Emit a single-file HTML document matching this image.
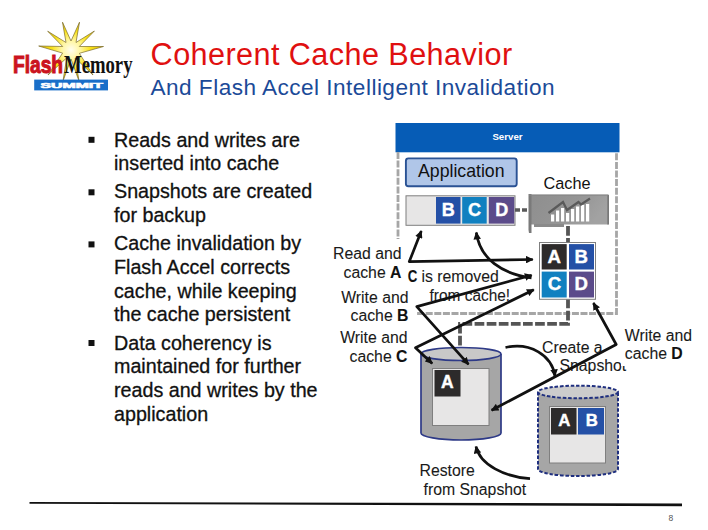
<!DOCTYPE html>
<html><head><meta charset="utf-8">
<style>
html,body{margin:0;padding:0;background:#fff;}
body{width:708px;height:530px;position:relative;overflow:hidden;font-family:"Liberation Sans",sans-serif;}
svg{position:absolute;left:0;top:0;}
text{font-family:"Liberation Sans",sans-serif;}
</style></head><body>
<svg width="708" height="530" viewBox="0 0 708 530">
  <defs>
    <marker id="ah" viewBox="0 0 10 10" refX="9" refY="5" markerWidth="3" markerHeight="2.8" orient="auto-start-reverse" markerUnits="strokeWidth">
      <path d="M0,0 L10,5 L0,10 z" fill="#111"/>
    </marker>
    <linearGradient id="card" x1="0" y1="0" x2="1" y2="0.3">
      <stop offset="0" stop-color="#8e8e8e"/><stop offset="0.6" stop-color="#959595"/><stop offset="1" stop-color="#a2a2a2"/>
    </linearGradient>
    <radialGradient id="sg" cx="71" cy="50" r="32" gradientUnits="userSpaceOnUse">
      <stop offset="0" stop-color="#FFFDF0"/><stop offset="0.3" stop-color="#FFF6A0"/><stop offset="0.6" stop-color="#F9E21A"/><stop offset="1" stop-color="#E2BE00"/>
    </radialGradient>
  </defs>

  <!-- logo -->
  <polygon points="62.5,22.2 71.0,41.0 79.5,22.2 76.0,42.5 94.4,31.0 79.3,46.5 103.5,46.5 79.4,53.3 93.0,75.0 75.2,58.0 79.0,81.0 71.0,59.0 63.0,81.0 66.7,57.9 48.0,75.0 62.6,53.1 38.7,46.0 62.7,46.5 47.7,31.2 66.0,42.5" fill="url(#sg)" stroke="#7A6A2A" stroke-width="0.7"/>
  <text x="13" y="73" font-weight="bold" font-size="23.6" textLength="50" lengthAdjust="spacingAndGlyphs" fill="#CE1420" stroke="#C8121E" stroke-width="1">Flash</text>
  <text x="64" y="72.9" style="font-family:'Liberation Serif',serif" font-weight="bold" font-size="26" textLength="68.5" lengthAdjust="spacingAndGlyphs" fill="#111">Memory</text>
  <rect x="34.2" y="79.6" width="73.8" height="10.8" fill="#1A6FC9"/>
  <text x="40.4" y="87.8" font-weight="bold" font-size="6.6" textLength="62.6" lengthAdjust="spacingAndGlyphs" fill="#fff" stroke="#fff" stroke-width="0.55">SUMMIT</text>

  <!-- title -->
  <text x="150.6" y="64.6" font-size="30.6" textLength="361.5" lengthAdjust="spacing" fill="#E01010">Coherent Cache Behavior</text>
  <text x="150.5" y="94.8" font-size="22.6" textLength="404" lengthAdjust="spacing" fill="#1B4A98">And Flash Accel Intelligent Invalidation</text>

  <!-- bullets -->
  <g fill="#111">
    <rect x="88.5" y="136.8" width="6" height="6"/>
    <rect x="88.5" y="189.3" width="6" height="6"/>
    <rect x="88.5" y="241.4" width="6" height="6"/>
    <rect x="88.5" y="340" width="6" height="6"/>
  </g>
  <g font-size="19.7" fill="#111" stroke="#111" stroke-width="0.3">
    <text x="114" y="146.6">Reads and writes are</text>
    <text x="114" y="170.4">inserted into cache</text>
    <text x="114" y="198">Snapshots are created</text>
    <text x="114" y="221.8">for backup</text>
    <text x="114" y="250.4">Cache invalidation by</text>
    <text x="114" y="274">Flash Accel corrects</text>
    <text x="114" y="297.6">cache, while keeping</text>
    <text x="114" y="321.3">the cache persistent</text>
    <text x="114" y="349.6">Data coherency is</text>
    <text x="114" y="373.3">maintained for further</text>
    <text x="114" y="396.9">reads and writes by the</text>
    <text x="114" y="420.5">application</text>
  </g>

  <!-- bottom rule -->
  <polygon points="29.5,502 682,503.5 682,506.3 29.5,503.7" fill="#111"/>
  <text x="668.5" y="520.5" font-size="8.5" fill="#555">8</text>

  <!-- server header -->
  <rect x="395.5" y="123" width="224" height="29.3" fill="#065CB6"/>
  <text x="507.5" y="140.2" font-size="9.7" font-weight="bold" fill="#fff" text-anchor="middle">Server</text>
  <!-- light gray dashed server box -->
  <path d="M398,152 V313.5 H616.5 V152" fill="none" stroke="#A6A6A6" stroke-width="2.8" stroke-dasharray="7,1.6"/>
  <rect x="330" y="239" width="86" height="130" fill="#fff"/>

  <!-- application -->
  <rect x="405.9" y="158.4" width="110.8" height="27.8" rx="2.5" fill="#B0C6E8" stroke="#2A5294" stroke-width="1.9"/>
  <text x="418" y="176.8" font-size="17.7" fill="#111">Application</text>
  <text x="543.5" y="188.8" font-size="16.3" fill="#111">Cache</text>

  <!-- memory strip -->
  <rect x="406" y="195.8" width="109" height="29.5" fill="#E7E6E6" stroke="#7F7F7F" stroke-width="1"/>
  <rect x="436" y="197" width="24.5" height="26.6" fill="#2450A6"/>
  <rect x="462.2" y="197" width="24.5" height="26.6" fill="#1080C0"/>
  <rect x="488.8" y="197" width="25.4" height="26.6" fill="#5B4B8A"/>
  <g font-size="18" font-weight="bold" fill="#fff" stroke="#fff" stroke-width="0.4" text-anchor="middle">
    <text x="448.3" y="216.3">B</text>
    <text x="474.6" y="216.3">C</text>
    <text x="501.7" y="216.3">D</text>
  </g>

  <!-- dark dashed connectors -->
  <line x1="515" y1="210" x2="530" y2="210" stroke="#595959" stroke-width="3.5" stroke-dasharray="5,2"/>
  <path d="M568,226 V323.8 H460 V347" fill="none" stroke="#555555" stroke-width="3.8" stroke-dasharray="9.7,2.4"/>

  <!-- cache card -->
  <path d="M529,195 L608.5,195 L608.5,224.5 L529,224.5 Z" fill="url(#card)"/>
  <path d="M528.5,194 L531.5,194 L531.5,233 L529,233 L528.5,230 Z" fill="#7a7a7a"/>
  <rect x="534" y="224" width="30" height="3" fill="#8a8a8a"/>
  <rect x="607.3" y="195" width="1.7" height="29.5" fill="#787878"/>
  <rect x="529" y="194.4" width="79.5" height="1.2" fill="#858585"/>
  <g fill="#fff">
    <rect x="551" y="214.5" width="3.2" height="7"/><rect x="556" y="210.5" width="3.2" height="11"/><rect x="561" y="208" width="3.2" height="13.5"/>
    <rect x="566" y="213" width="3.2" height="8.5"/><rect x="571" y="209" width="3.2" height="12.5"/><rect x="576" y="206.5" width="3.2" height="15"/>
    <rect x="581" y="205" width="3.2" height="16.5"/><rect x="586" y="204" width="3.2" height="17.5"/>
  </g>
  <path d="M548.5,213 L563,202 L567,210 L578.5,202 L581,204.5 L590,198.5" fill="none" stroke="#5a5a5a" stroke-width="2.2"/>

  <!-- ABCD grid -->
  <rect x="539.5" y="242.5" width="56" height="56.8" fill="#fff" stroke="#7F7F7F" stroke-width="1"/>
  <rect x="541.7" y="244.1" width="25" height="25.4" fill="#2D2B2B"/>
  <rect x="569" y="244.1" width="25" height="25.4" fill="#2450A6"/>
  <rect x="541.7" y="271.6" width="25" height="25.9" fill="#1080C0"/>
  <rect x="569" y="271.6" width="25" height="25.9" fill="#5B4B8A"/>
  <g font-size="18.6" font-weight="bold" fill="#fff" stroke="#fff" stroke-width="0.4" text-anchor="middle">
    <text x="554.1" y="262.8">A</text>
    <text x="581.2" y="262.8">B</text>
    <text x="554.4" y="289.6">C</text>
    <text x="581.3" y="289.6">D</text>
  </g>

  <!-- cylinder 1 -->
  <path d="M421,354 V433 A40,7 0 0 0 501,433 V354" fill="#A6A6A6" stroke="#2E3A87" stroke-width="1.7"/>
  <ellipse cx="461" cy="354" rx="40" ry="6.5" fill="#C8C8C8" stroke="#2E3A87" stroke-width="1.7"/>
  <rect x="432.5" y="368.5" width="56.5" height="57" fill="#E7E6E6" stroke="#7F7F7F" stroke-width="1"/>
  <rect x="434.5" y="370" width="26" height="26.5" fill="#2D2B2B"/>
  <text x="447.4" y="388" font-size="17.5" font-weight="bold" fill="#fff" stroke="#fff" stroke-width="0.4" text-anchor="middle">A</text>

  <!-- cylinder 2 -->
  <path d="M538,392 V469 A40,7 0 0 0 618,469 V392" fill="#A6A6A6" stroke="#1F2F7F" stroke-width="2" stroke-dasharray="3.5,1.8"/>
  <ellipse cx="578" cy="392" rx="40" ry="6.3" fill="#CCCCCC" stroke="#1F2F7F" stroke-width="2" stroke-dasharray="3.5,1.8"/>
  <rect x="549.5" y="406.5" width="56" height="56.5" fill="#E7E6E6" stroke="#7F7F7F" stroke-width="1"/>
  <rect x="551" y="408" width="25.5" height="26.5" fill="#2D2B2B"/>
  <rect x="578" y="408" width="26" height="26.5" fill="#2450A6"/>
  <g font-size="16.8" font-weight="bold" fill="#fff" stroke="#fff" stroke-width="0.4" text-anchor="middle">
    <text x="564.4" y="426.2">A</text>
    <text x="591.8" y="426.2">B</text>
  </g>

  <!-- labels -->
  <g font-size="15.8" fill="#1a1a1a" stroke="#1a1a1a" stroke-width="0.08">
    <text x="401.5" y="259" text-anchor="end">Read and</text>
    <text x="401.5" y="277.9" text-anchor="end">cache <tspan font-weight="bold" fill="#111">A</tspan></text>
    <text x="408.5" y="302.9" text-anchor="end">Write and</text>
    <text x="408.5" y="321.2" text-anchor="end">cache <tspan font-weight="bold" fill="#111">B</tspan></text>
    <text x="407.5" y="342.9" text-anchor="end">Write and</text>
    <text x="407.5" y="362" text-anchor="end">cache <tspan font-weight="bold" fill="#111">C</tspan></text>
    <text x="407.8" y="281.7" font-weight="bold" fill="#111" font-size="16.8" textLength="9.6" lengthAdjust="spacingAndGlyphs">C</text><text x="421.5" y="281.6">is removed</text>
    <text x="429.6" y="301" textLength="80.5" lengthAdjust="spacingAndGlyphs">from cache!</text>
    <text x="542" y="352.5">Create a</text>
    <text x="559.5" y="370.6">Snapshot</text>
    <text x="419.5" y="476">Restore</text>
    <text x="423.5" y="495">from Snapshot</text>
  </g>
  <rect x="621" y="322" width="83" height="44" fill="#fff"/>
  <g font-size="15.8" fill="#1a1a1a" stroke="#1a1a1a" stroke-width="0.08">
    <text x="624.8" y="340.6">Write and</text>
    <text x="624.8" y="359.3">cache <tspan font-weight="bold" fill="#111">D</tspan></text>
  </g>

  <!-- arrows -->
  <g stroke="#111" stroke-width="2.7" fill="none" stroke-linejoin="round">
    <polyline points="421.3,231 409.3,261.6 532.8,259.5" marker-start="url(#ah)" marker-end="url(#ah)"/>
    <polyline points="531.7,275.2 416.8,306.6 468.5,364.4" marker-start="url(#ah)" marker-end="url(#ah)"/>
    <polyline points="533.8,289.7 415.5,347.8 432.2,363.4" marker-start="url(#ah)" marker-end="url(#ah)"/>
    <path d="M531.5,277.8 C502,274 480,259 476.3,232.5" marker-end="url(#ah)"/>
    <polyline points="593.4,303 616.2,344.5 491.6,410.3" marker-start="url(#ah)" marker-end="url(#ah)"/>
    <path d="M505.5,347.5 C530,342 552,355 555,376.2" marker-end="url(#ah)"/>
    <path d="M530,478.7 C505,477 480,465 476,446.5" marker-end="url(#ah)"/>
  </g>
</svg>
</body></html>
